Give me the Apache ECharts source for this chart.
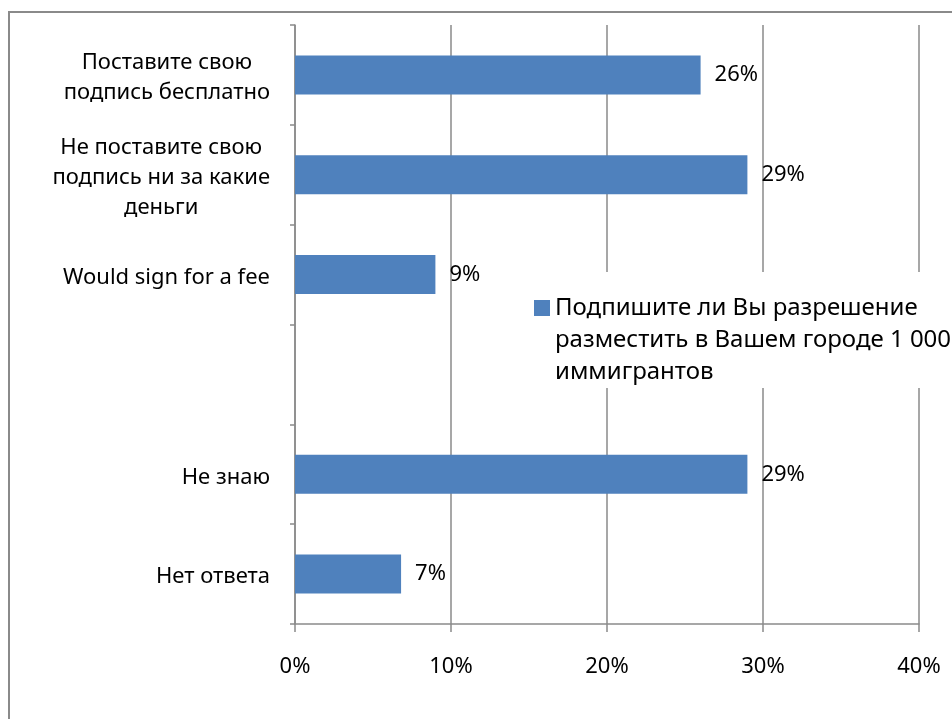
<!DOCTYPE html>
<html>
<head>
<meta charset="utf-8">
<script src="https://cdn.jsdelivr.net/npm/echarts@6/dist/echarts.min.js"></script>
<style>
html,body{margin:0;padding:0;background:#fff;}
#chart{width:952px;height:719px;}
</style>
</head>
<body>
<div id="chart"></div>
<script>
const categories = ['Поставите свою\nподпись бесплатно', 'Не поставите свою\nподпись ни за какие\nденьги', 'Would sign for a fee', '', 'Не знаю', 'Нет ответа'];
const values = [26, 29, 9, null, 29, 6.8];
const seriesName = 'Подпишите ли Вы разрешение разместить в Вашем городе 1 000 иммигрантов';
const legendLines = ['Подпишите ли Вы разрешение', 'разместить в Вашем городе 1 000', 'иммигрантов'];
const xMin = 0, xMax = 40, xStep = 10;

const FONT = 'Noto Sans';
const GRAY = '#8a8a8a';
const chart = echarts.init(document.getElementById('chart'), null, {renderer: 'canvas'});
chart.setOption({
  animation: false,
  backgroundColor: '#fff',
  textStyle: {fontFamily: FONT},
  graphic: [{
    type: 'polyline',
    shape: {points: [[9, 719], [9, 12], [952, 12]]},
    style: {stroke: GRAY, lineWidth: 2, fill: null},
    silent: true
  }],
  grid: {left: 295, right: 33, top: 25, bottom: 95, containLabel: false},
  legend: {
    left: 530, top: 272,
    padding: [20, 4, 0, 4],
    backgroundColor: '#fff',
    itemWidth: 16, itemHeight: 96,
    icon: 'path://M0,0L0,0M0,8L16,8L16,24L0,24ZM16,96L16,96',
    formatter: () => legendLines.join('\n'),
    textStyle: {fontFamily: FONT, fontSize: 24, lineHeight: 32, color: '#000'},
    data: [seriesName]
  },
  xAxis: {
    type: 'value', min: xMin, max: xMax, interval: xStep,
    axisLine: {show: true, lineStyle: {color: GRAY, width: 1.5}},
    axisTick: {show: true, length: 8, lineStyle: {color: GRAY, width: 1.5}},
    splitLine: {show: true, lineStyle: {color: GRAY, width: 1.5}},
    axisLabel: {formatter: '{value}%', margin: 32, fontSize: 22, color: '#000', fontFamily: FONT}
  },
  yAxis: {
    type: 'category', inverse: true, data: categories,
    axisLine: {show: true, lineStyle: {color: GRAY, width: 1.5}},
    axisTick: {show: true, length: 5, lineStyle: {color: GRAY, width: 1.5}},
    axisLabel: {
      margin: 25,
      padding: [6, 0, 0, 0],
      formatter: v => v ? v.split('\n').map(l => '{c|' + l + '}').join('\n') : '',
      rich: {c: {align: 'center', fontSize: 22, lineHeight: 30, color: '#000', fontFamily: FONT}}
    }
  },
  series: [{
    name: seriesName,
    type: 'bar',
    data: values,
    barWidth: '39%',
    itemStyle: {color: '#4F81BD'},
    label: {
      show: true, position: 'right', distance: 14,
      padding: [4, 0, 0, 0],
      formatter: p => p.value == null ? '' : Math.round(p.value) + '%',
      fontSize: 22, color: '#000', fontFamily: FONT
    }
  }]
});
</script>
</body>
</html>
